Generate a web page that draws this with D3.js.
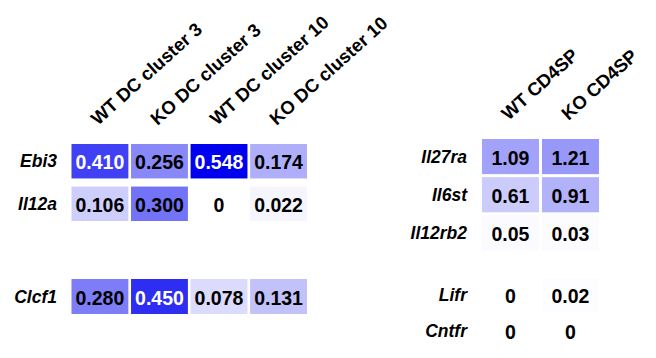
<!DOCTYPE html>
<html>
<head>
<meta charset="utf-8">
<script src="https://cdn.jsdelivr.net/npm/d3@7"></script>
<style>
    body { margin: 0; background: #ffffff; }
    text { font-family: "Liberation Sans", Arial, sans-serif; font-weight: bold; }
    .rowlabel { font-style: italic; font-size: 17.5px; }
    .collabel { font-size: 18.5px; }
    .cellvalue { font-size: 19.5px; }
</style>
</head>
<body>
<svg id="heat_svg" width="656" height="358"></svg>
<script>

// DC clusters (left panel)
const dc_columns = ["WT DC cluster 3", "KO DC cluster 3", "WT DC cluster 10", "KO DC cluster 10"];
const dc_genes_top = ["Ebi3", "Il12a"];
const dc_genes_bottom = ["Clcf1"];
const ebi3_values  = [0.410, 0.256, 0.548, 0.174];
const il12a_values = [0.106, 0.300, 0, 0.022];
const clcf1_values = [0.280, 0.450, 0.078, 0.131];

// CD4SP thymocytes (right panel)
const sp_columns = ["WT CD4SP", "KO CD4SP"];
const sp_genes_top = ["Il27ra", "Il6st", "Il12rb2"];
const sp_genes_bottom = ["Lifr", "Cntfr"];
const il27ra_values  = [1.09, 1.21];
const il6st_values   = [0.61, 0.91];
const il12rb2_values = [0.05, 0.03];
const lifr_values    = [0, 0.02];
const cntfr_values   = [0, 0];

class ExpressionHeatmap {

    constructor(svg_id) {
        this.svg = d3.select("#" + svg_id);
    }

    // one panel = columns + groups of rows, each group has its own y band
    drawPanel(cfg) {
        let x = d3.scaleBand().domain(cfg.columns).range(cfg.xRange).paddingInner(cfg.xPad);
        let color = d3.scaleLinear().domain(cfg.colorDomain)
            .range(["#ffffff", "#0000f0"]).interpolate(d3.interpolateRgb).clamp(true);

        let g = this.svg.append("g");

        // column headers, rotated
        g.selectAll(".collabel").data(cfg.columns).join("text")
            .attr("class", "collabel")
            .attr("transform", d => "translate(" + (x(d) + x.bandwidth() / 2 - 2) + "," + cfg.headerY + ") rotate(-42)")
            .text(d => d);

        cfg.groups.forEach(grp => {
            let y = d3.scaleBand().domain(grp.genes).range(grp.yRange).paddingInner(grp.yPad);

            let cells = [];
            grp.genes.forEach((gene, i) => {
                grp.values[i].forEach((v, j) => {
                    cells.push({gene: gene, column: cfg.columns[j], value: v});
                });
            });

            g.selectAll(null).data(grp.genes).join("text")
                .attr("class", "rowlabel")
                .attr("x", cfg.labelX)
                .attr("y", d => y(d) + y.bandwidth() / 2)
                .attr("text-anchor", "end")
                .attr("dominant-baseline", "central")
                .text(d => d);

            g.selectAll(null).data(cells).join("rect")
                .attr("x", d => x(d.column))
                .attr("y", d => y(d.gene))
                .attr("width", x.bandwidth())
                .attr("height", y.bandwidth())
                .style("fill", d => color(d.value));

            g.selectAll(null).data(cells).join("text")
                .attr("class", "cellvalue")
                .attr("x", d => x(d.column) + x.bandwidth() / 2)
                .attr("y", d => y(d.gene) + y.bandwidth() / 2 + 1)
                .attr("text-anchor", "middle")
                .attr("dominant-baseline", "central")
                .style("fill", d => d.value / cfg.colorDomain[1] > 0.6 ? "#ffffff" : "#000000")
                .text(d => d.value === 0 ? "0" : d3.format(cfg.fmt)(d.value));
        });
    }

    render() {
        this.drawPanel({
            columns: dc_columns,
            xRange: [71.5, 307], xPad: 0.045,
            headerY: 126, labelX: 57,
            colorDomain: [0, 0.548], fmt: ".3f",
            groups: [
                {genes: dc_genes_top, values: [ebi3_values, il12a_values], yRange: [144, 221], yPad: 0.19},
                {genes: dc_genes_bottom, values: [clcf1_values], yRange: [279, 314], yPad: 0}
            ]
        });

        this.drawPanel({
            columns: sp_columns,
            xRange: [482, 599], xPad: 0.05,
            headerY: 121, labelX: 467,
            colorDomain: [0, 3], fmt: ".2f",
            groups: [
                {genes: sp_genes_top, values: [il27ra_values, il6st_values, il12rb2_values], yRange: [139, 250.5], yPad: 0.08},
                {genes: sp_genes_bottom, values: [lifr_values, cntfr_values], yRange: [278, 348], yPad: 0.06}
            ]
        });
    }
}

let vis = new ExpressionHeatmap("heat_svg");
vis.render();
</script>
</body>
</html>
